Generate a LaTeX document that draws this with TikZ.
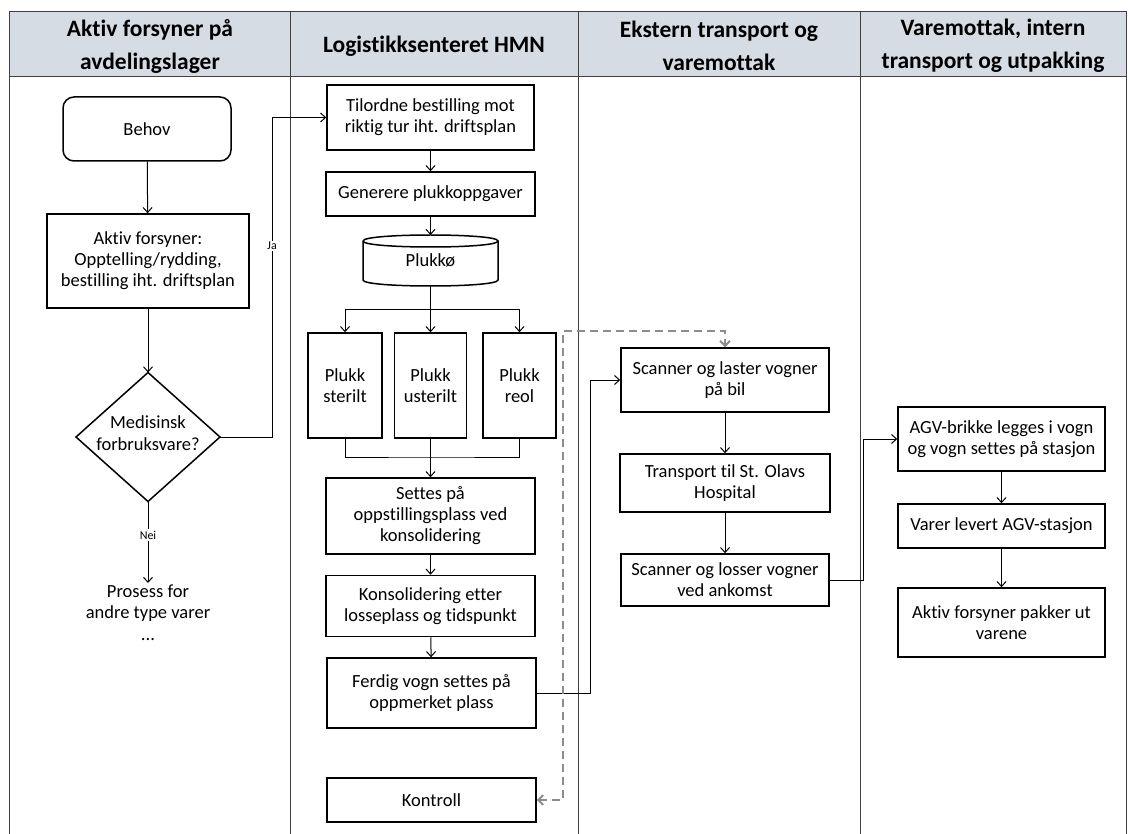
\documentclass[tikz,border=0pt]{standalone}
\usepackage{fontspec}
\setmainfont{Carlito}[RawFeature=-liga]
\usetikzlibrary{arrows.meta}
\definecolor{hdr}{HTML}{D6DCE4}
\definecolor{dashgray}{HTML}{8C8C8C}
\tikzset{
  box/.style={draw=black, line width=1.5pt, fill=white, align=center, inner sep=0pt,
    font=\fontsize{18.5}{21}\selectfont},
  plain/.style={align=center, inner sep=0pt, font=\fontsize{18.5}{21.5}\selectfont},
  hdrtext/.style={align=center, inner sep=0pt, font=\bfseries\fontsize{23.5}{33}\selectfont},
  conn/.style={line width=1pt, draw=black, -{Straight Barb[length=5pt,width=9pt]}},
  link/.style={line width=1pt, draw=black},
  lbl/.style={fill=white, inner sep=1.5pt, font=\fontsize{12}{14}\selectfont},
  lane/.style={line width=0.9pt, draw=black!75},
  dashconn/.style={line width=2pt, draw=dashgray, dash pattern=on 8pt off 5pt,
    {Straight Barb[length=5pt,width=10pt]}-{Straight Barb[length=5pt,width=10pt]}}
}
\begin{document}
\begin{tikzpicture}[x=1pt,y=-1pt]
\useasboundingbox (0,0) rectangle (1130,834);
\fill[white] (0,0) rectangle (1130,834);
% header
\fill[hdr] (9.5,11) rectangle (1126,76);
\draw[lane] (9.5,834) -- (9.5,11) -- (1126,11) -- (1126,834);
\draw[lane] (9.5,76) -- (1126,76);
\draw[lane] (290,11) -- (290,834);
\draw[lane] (578,11) -- (578,834);
\draw[lane] (860,11) -- (860,834);
\node[hdrtext] (h1) at (150,46) {Aktiv forsyner på\\avdelingslager};
\node[hdrtext] (h2) at (434,46) {Logistikksenteret HMN};
\node[hdrtext] (h3) at (719,46) {Ekstern transport og\\varemottak};
\node[hdrtext] (h4) at (993,46) {Varemottak, intern\\transport og utpakking};

% lane 1
\node[box, rounded corners=11pt, minimum width=168pt, minimum height=64pt] (behov) at (147,129) {Behov};
\node[box, minimum width=202pt, minimum height=94pt] (aktiv) at (148,261) {Aktiv forsyner:\\Opptelling/rydding,\\bestilling iht. driftsplan};
\coordinate (decT) at (148,372.5);
\coordinate (decR) at (220,437);
\coordinate (decB) at (148,501.5);
\coordinate (decL) at (76,437);
\draw[line width=1.5pt, fill=white] (decT) -- (decR) -- (decB) -- (decL) -- cycle;
\node[plain] (dec) at (148,433) {Medisinsk\\forbruksvare?};
\node[plain, anchor=north] (prosess) at (148,583) {\rule{0pt}{14pt}Prosess for\\andre type varer\\...};

% lane 2
\node[box, minimum width=207pt, minimum height=65pt] (tilordne) at (430.5,117.5) {Tilordne bestilling mot\\riktig tur iht. driftsplan};
\node[box, minimum width=209pt, minimum height=44pt] (generere) at (430.5,194) {Generere plukkoppgaver};
\draw[line width=1.5pt, fill=white] (363,241) -- (363,280) .. controls (363,288) and (498,288) .. (498,280) -- (498,241);
\draw[line width=1.5pt, fill=white] (363,241) .. controls (363,233) and (498,233) .. (498,241) .. controls (498,249) and (363,249) .. (363,241);
\node[plain, minimum width=135pt, minimum height=51pt] (plukko) at (430.5,260.5) {\raisebox{-5pt}{Plukkø}};
\node[box, minimum width=74pt, minimum height=105pt] (ps) at (345,385.5) {Plukk\\sterilt};
\node[box, minimum width=72pt, minimum height=105pt] (pu) at (430.5,385.5) {Plukk\\usterilt};
\node[box, minimum width=73pt, minimum height=105pt] (pr) at (519.5,385.5) {Plukk\\reol};
\node[box, minimum width=209pt, minimum height=76pt] (settes) at (430.5,516) {Settes på\\oppstillingsplass ved\\konsolidering};
\node[box, minimum width=209pt, minimum height=61pt] (kons) at (430.5,606) {Konsolidering etter\\losseplass og tidspunkt};
\node[box, minimum width=209pt, minimum height=70pt] (ferdig) at (431.5,693) {Ferdig vogn settes på\\oppmerket plass};
\node[box, minimum width=209pt, minimum height=44pt] (kontroll) at (431.5,800) {Kontroll};

% lane 3
\node[box, minimum width=208pt, minimum height=64pt] (scan1) at (725,380) {Scanner og laster vogner\\på bil};
\node[box, minimum width=210pt, minimum height=58pt] (transp) at (725,483) {Transport til St. Olavs\\Hospital};
\node[box, minimum width=208pt, minimum height=52pt] (scan2) at (725,580) {Scanner og losser vogner\\ved ankomst};

% lane 4
\node[box, minimum width=207pt, minimum height=64pt] (agv) at (1001.5,439) {AGV-brikke legges i vogn\\og vogn settes på stasjon};
\node[box, minimum width=207pt, minimum height=44pt] (varer) at (1001.5,526) {Varer levert AGV-stasjon};
\node[box, minimum width=207pt, minimum height=69pt] (pakker) at (1001.5,622.5) {Aktiv forsyner pakker ut\\varene};

% connectors lane 1
\draw[conn] (behov) -- (aktiv);
\draw[conn] (aktiv) -- (decT);
\draw[conn] (decR) -- (272,437) |- (tilordne.west);
\node[lbl] (ja) at (272,246) {Ja};
\draw[conn] (decB) -- (prosess.north);
\node[lbl] (nei) at (148,535) {Nei};

% connectors lane 2
\draw[conn] (tilordne) -- (generere);
\draw[conn] (generere) -- (430.5,235);
\draw[conn] (plukko.south) -- (pu.north);
\coordinate (split) at (430.5,310);
\draw[conn] (split) -| (ps.north);
\draw[conn] (split) -| (pr.north);
\coordinate (merge) at (430.5,457);
\draw[link] (ps.south) |- (merge) -| (pr.south);
\draw[conn] (pu.south) -- (settes.north);
\draw[conn] (settes) -- (kons);
\draw[conn] (kons) -- (ferdig);
\draw[conn] (ferdig.east) -- (590,693) |- (scan1.west);
\draw[dashconn] (kontroll.east) -- (563,800) -- (563,331) -| (scan1.north);

% connectors lane 3/4
\draw[conn] (scan1) -- (transp);
\draw[conn] (transp) -- (scan2);
\draw[conn] (scan2.east) -- (863,580) |- (agv.west);
\draw[conn] (agv) -- (varer);
\draw[conn] (varer) -- (pakker);
\end{tikzpicture}
\end{document}
